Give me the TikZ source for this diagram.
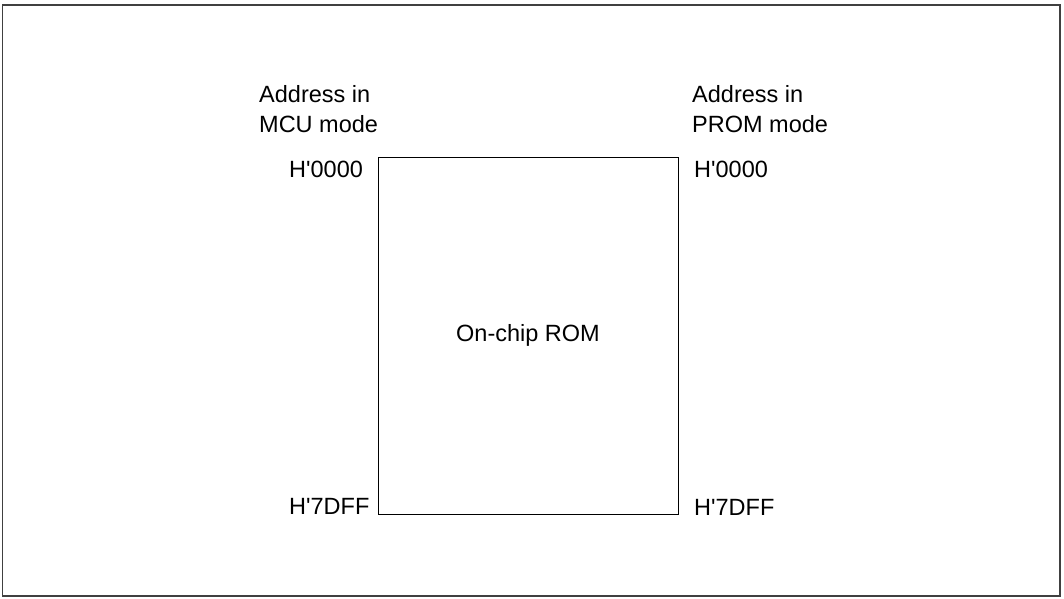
\documentclass[tikz,border=0pt]{standalone}
\usepackage{fontspec}
\setmainfont{Liberation Sans}
\usepackage{tikz}
\usetikzlibrary{positioning, calc}

\newcommand{\hx}[1]{H\textquotesingle#1}

\begin{document}
\begin{tikzpicture}[
    x=1pt, y=-1pt,
    rombox/.style={draw, line width=1pt, minimum width=300pt, minimum height=357pt,
                   inner sep=0pt, font=\fontsize{23.5}{30}\selectfont},
    adr/.style={inner sep=0pt, anchor=base west, font=\fontsize{23.5}{30}\selectfont},
    kopf/.style={adr, align=left}
  ]
    \useasboundingbox (0,0) rectangle (1064,598);
    \draw[black!75, line width=1.6pt] (2.5,5) rectangle (1060,596);

    \node[rombox] (rom) at (528,335.5) {On-chip ROM};

    % left column (MCU mode)
    \node[kopf] (mcu) at (259,132) {Address in\\MCU mode};
    \node[adr] (mcutop) at (289,177) {\hx{0000}};
    \node[adr] (mcuend) at (289,514) {\hx{7DFF}};

    % right column (PROM mode)
    \node[kopf] (prom) at (692,132) {Address in\\PROM mode};
    \node[adr] (promtop) at (694,177) {\hx{0000}};
    \node[adr] (promend) at (694,515) {\hx{7DFF}};
  \end{tikzpicture}
\end{document}
